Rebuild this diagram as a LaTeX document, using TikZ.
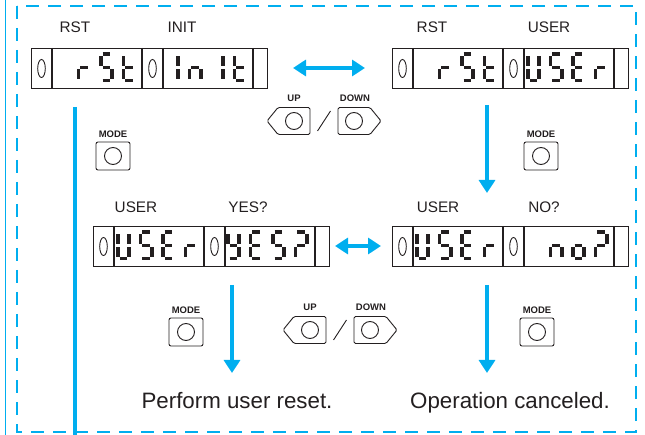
\documentclass[tikz,border=0pt]{standalone}
\usepackage{fontspec}
\setmainfont{Liberation Sans}
\usetikzlibrary{arrows.meta}
\definecolor{cy}{RGB}{0,174,239}
\definecolor{ink}{RGB}{35,31,32}
\tikzset{
  segline/.style={line width=3.6pt, draw=ink, line cap=butt},
  cellline/.style={draw=ink, line width=1.1pt},
  dispbox/.style={draw=ink, line width=1.1pt, minimum width=236pt, minimum height=40pt, inner sep=0pt, anchor=north west},
  lbl/.style={font=\fontsize{15.3}{17}\selectfont, text=ink, anchor=base, inner sep=0pt},
  keylbl/.style={font=\bfseries\fontsize{9.5}{10}\selectfont, text=ink, anchor=base, inner sep=0pt},
  bigtext/.style={font=\fontsize{22.3}{25}\selectfont, text=ink, anchor=base, inner sep=0pt},
  btnline/.style={draw=ink, line width=0.9pt},
  modebox/.style={btnline, rectangle, rounded corners=2pt, minimum width=34pt, minimum height=28pt, inner sep=0pt},
  flow/.style={draw=cy, line width=4pt},
  tipd/.style={-{Triangle[length=13pt,width=16pt]}},
  tipdd/.style={{Triangle[length=13pt,width=16pt]}-{Triangle[length=13pt,width=16pt]}},
  frame/.style={draw=cy, line width=2pt, dash pattern=on 13pt off 9pt}
}
% seven-segment pieces (glyph 15 x 30, origin top-left, y downwards)
\expandafter\def\csname sgma\endcsname{\draw[segline] (3.6,1.8) -- (11.4,1.8);}
\expandafter\def\csname sgmg\endcsname{\draw[segline] (3.6,15) -- (11.4,15);}
\expandafter\def\csname sgmd\endcsname{\draw[segline] (3.6,28.2) -- (11.4,28.2);}
\expandafter\def\csname sgmf\endcsname{\draw[segline] (1.8,3.6) -- (1.8,13.4);}
\expandafter\def\csname sgme\endcsname{\draw[segline] (1.8,16.6) -- (1.8,26.4);}
\expandafter\def\csname sgmb\endcsname{\draw[segline] (13.2,3.6) -- (13.2,13.4);}
\expandafter\def\csname sgmc\endcsname{\draw[segline] (13.2,16.6) -- (13.2,26.4);}
\newcommand\sevdig[3]{\begin{scope}[shift={(#1,#2)}]\foreach \s in {#3}{\csname sgm\s\endcsname}\end{scope}}
% display: name, x, y (top-left)
\newcommand\lcdbox[3]{%
  \node[dispbox] (#1) at (#2,#3) {};
  \foreach \dx in {21,111,132,222}{\draw[cellline] (#2+\dx,#3) -- (#2+\dx,#3+40);}
  \draw[cellline, line width=0.9pt] (#2+10.5,#3+20.5) ellipse [x radius=3.8, y radius=9];
  \draw[cellline, line width=0.9pt] (#2+121.5,#3+20.5) ellipse [x radius=3.8, y radius=9];
}
% four digits in a cell: cell x, top y, four segment lists
\newcommand\fourdig[6]{%
  \sevdig{#1+2}{#2}{#3}\sevdig{#1+24.5}{#2}{#4}\sevdig{#1+47}{#2}{#5}\sevdig{#1+69.5}{#2}{#6}}
\newcommand\modebtn[3]{%
  \node[modebox] (#1) at (#2,#3) {};
  \draw[btnline] (#1.center) circle (8.5);
  \node[keylbl] (#1l) at (#2,#3-18) {MODE};
}
\newcommand\updown[3]{%
  \draw[btnline, rounded corners=1.5pt] (#2-57,#3) -- (#2-46,#3-13.5) -- (#2-14,#3-13.5) -- (#2-14,#3+13.5) -- (#2-46,#3+13.5) -- cycle;
  \draw[btnline, rounded corners=1.5pt] (#2+57,#3) -- (#2+46,#3-13.5) -- (#2+14,#3-13.5) -- (#2+14,#3+13.5) -- (#2+46,#3+13.5) -- cycle;
  \coordinate (#1u) at (#2-30,#3);
  \coordinate (#1d) at (#2+30,#3);
  \draw[btnline] (#1u) circle (8.5);
  \draw[btnline] (#1d) circle (8.5);
  \coordinate (#1sa) at (#2-6.5,#3+10);
  \coordinate (#1sb) at (#2+6.5,#3-10);
  \draw[btnline] (#1sa) -- (#1sb);
  \node[keylbl] (#1ul) at (#2-30,#3-19) {UP};
  \node[keylbl] (#1dl) at (#2+31,#3-19) {DOWN};
}
\begin{document}
\begin{tikzpicture}[x=1pt,y=-1pt]
\useasboundingbox (0,0) rectangle (645,435);
% frame
\draw[frame] (17,6) rectangle (636,432);
\draw[cy, line width=1.5pt] (5.5,0) -- (5.5,435);
% displays
\lcdbox{d1}{31}{48}
\fourdig{52}{52.5}{}{e,g}{a,f,g,c,d}{d,e,f,g}
\fourdig{163}{52.5}{b,c}{c,e,g}{b,c}{d,e,f,g}
\lcdbox{d2}{392}{48}
\fourdig{413}{52.5}{}{e,g}{a,f,g,c,d}{d,e,f,g}
\fourdig{524}{52.5}{b,c,d,e,f}{a,f,g,c,d}{a,f,g,e,d}{e,g}
\lcdbox{d3}{93}{226}
\fourdig{114}{230.5}{b,c,d,e,f}{a,f,g,c,d}{a,f,g,e,d}{e,g}
\fourdig{224}{230.5}{b,c,d,f,g}{a,f,g,e,d}{a,f,g,c,d}{a,b,g,e}
\lcdbox{d4}{392}{226}
\fourdig{413}{230.5}{b,c,d,e,f}{a,f,g,c,d}{a,f,g,e,d}{e,g}
\fourdig{524}{230.5}{}{c,e,g}{c,d,e,g}{a,b,g,e}
% labels
\node[lbl] (l1) at (75,33) {RST};
\node[lbl] (l2) at (182,33) {INIT};
\node[lbl] (l3) at (432,33) {RST};
\node[lbl] (l4) at (549,33) {USER};
\node[lbl] (l5) at (136,213) {USER};
\node[lbl] (l6) at (248,213) {YES?};
\node[lbl] (l7) at (438,213) {USER};
\node[lbl] (l8) at (544,213) {NO?};
% keys
\modebtn{m1}{113}{156}
\modebtn{m2}{541}{156}
\modebtn{m3}{186}{332}
\modebtn{m4}{537}{332}
\updown{k1}{324}{121}
\updown{k2}{340}{330}
% flows
\coordinate (h1a) at (293,68);
\coordinate (h1b) at (365,68);
\draw[flow, tipdd] (h1a) -- (h1b);
\coordinate (h2a) at (335,246);
\coordinate (h2b) at (381,246);
\draw[flow, tipdd] (h2a) -- (h2b);
\coordinate (v1a) at (487,105);
\coordinate (v1b) at (487,193);
\draw[flow, tipd] (v1a) -- (v1b);
\coordinate (v2a) at (232,285);
\coordinate (v2b) at (232,373);
\draw[flow, tipd] (v2a) -- (v2b);
\coordinate (v3a) at (487,285);
\coordinate (v3b) at (487,373);
\draw[flow, tipd] (v3a) -- (v3b);
\coordinate (v0a) at (75,107);
\coordinate (v0b) at (75,435);
\draw[flow] (v0a) -- (v0b);
% results
\node[bigtext] (t1) at (237,408) {Perform user reset.};
\node[bigtext] (t2) at (510,408) {Operation canceled.};
\end{tikzpicture}
\end{document}
